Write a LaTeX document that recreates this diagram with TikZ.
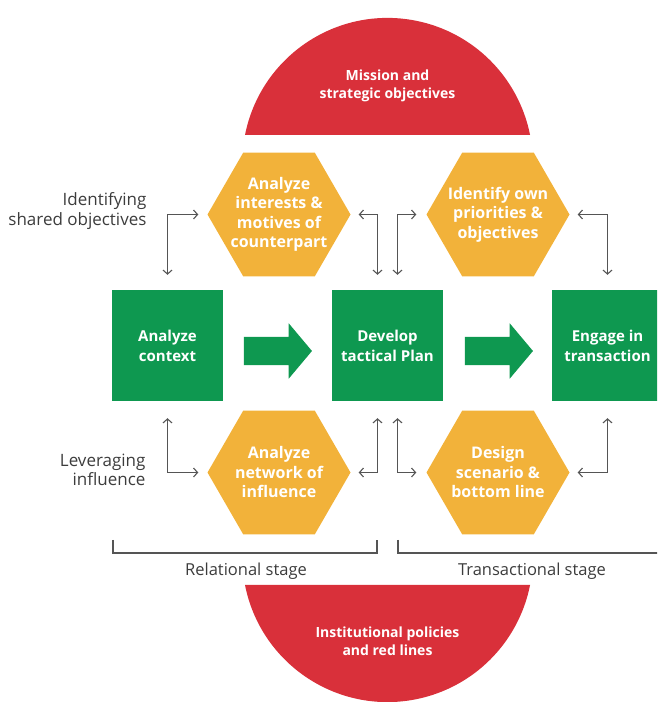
\documentclass[tikz,border=0pt]{standalone}
\usepackage{fontspec}
\setmainfont{Open Sans}
\usepackage{tikz}
\usetikzlibrary{shapes.geometric, shapes.arrows, arrows.meta}

\definecolor{stepgreen}{RGB}{14,152,80}
\definecolor{hexorange}{RGB}{242,178,58}
\definecolor{capred}{RGB}{217,48,58}
\definecolor{linkgray}{RGB}{85,85,85}
\definecolor{labelgray}{RGB}{60,60,60}

\tikzset{
  stage/.style={rectangle, fill=stepgreen, minimum width=111pt, minimum height=111pt,
    inner sep=0pt, text=white, align=center, font=\bfseries\fontsize{15}{20}\selectfont},
  hexa/.style={regular polygon, regular polygon sides=6, minimum size=143pt, inner sep=-12pt,
    fill=hexorange, text=white, align=center, font=\bfseries\fontsize{16}{19.5}\selectfont},
  flow/.style={single arrow, fill=stepgreen, minimum height=68pt, inner xsep=0pt, inner ysep=14pt,
    single arrow head extend=13.5pt, single arrow tip angle=100},
  redcap/.style={fill=capred},
  captext/.style={text=white, align=center, font=\bfseries\fontsize{14}{18}\selectfont},
  link/.style={{Straight Barb[length=4pt, width=9pt]}-{Straight Barb[length=4pt, width=9pt]},
    draw=linkgray, line width=1.1pt},
  side/.style={text=labelgray, align=right, font=\fontsize{17}{19.5}\selectfont},
  bracket/.style={draw=linkgray, line width=1.1pt},
  stagelabel/.style={text=labelgray, font=\fontsize{16.5}{19}\selectfont}
}

\begin{document}
\begin{tikzpicture}[x=1pt, y=1pt]
    \useasboundingbox (0,0) rectangle (657,702);
    \clip (0,0) rectangle (657,702);

    % red caps
    \fill[redcap] (245,567) arc[start angle=168.8, end angle=11.2, radius=145.3] -- cycle;
    \node[captext] (mission) at (387.5,616) {Mission and\\strategic objectives};
    \fill[redcap] (245,117) arc[start angle=-168.8, end angle=-11.2, radius=145.3] -- cycle;
    \node[captext] (policies) at (387.5,61) {Institutional policies\\and red lines};

    % main steps
    \node[stage] (context) at (167.5,356.5) {Analyze\\context};
    \node[stage] (plan) at (387.5,356.5) {Develop\\tactical Plan};
    \node[stage] (engage) at (607.5,356.5) {Engage in\\transaction};

    \node[flow] (go1) at (272,351) {};
    \node[flow] (go2) at (493,351) {};

    \node[hexa] (interests) at (279,487.5) {Analyze\\interests \&\\motives of\\counterpart};
    \node[hexa] (priorities) at (498,487.5) {Identify own\\priorities \&\\objectives};
    \node[hexa] (network) at (279,229.5) {Analyze\\network of\\influence};
    \node[hexa] (scenario) at (498,229.5) {Design\\scenario \&\\bottom line};

    % links
    \draw[link, shorten <=15pt, shorten >=9pt] (context.north) |- (interests.west);
    \draw[link, shorten <=15pt, shorten >=8pt] ([xshift=-10pt]plan.north) |- (interests.east);
    \draw[link, shorten <=15pt, shorten >=10pt] ([xshift=10pt]plan.north) |- (priorities.west);
    \draw[link, shorten <=15pt, shorten >=8pt] (engage.north) |- (priorities.east);

    \draw[link, shorten <=17pt, shorten >=9pt] (context.south) |- (network.west);
    \draw[link, shorten <=17pt, shorten >=8pt] ([xshift=-10pt]plan.south) |- (network.east);
    \draw[link, shorten <=17pt, shorten >=10pt] ([xshift=10pt]plan.south) |- (scenario.west);
    \draw[link, shorten <=17pt, shorten >=8pt] (engage.south) |- (scenario.east);

    \node[side, anchor=east] (shared) at (150,491) {Identifying\\shared objectives};
    \node[side, anchor=east] (leverage) at (149,232) {Leveraging\\influence};

    % stages
    \draw[bracket] (113,162) |- (377,149) -- (377,162);
    \draw[bracket] (398,162) |- (670,149);
    \node[stagelabel] (relational) at (246,131) {Relational stage};
    \node[stagelabel] (transactional) at (532,131) {Transactional stage};
\end{tikzpicture}
\end{document}
